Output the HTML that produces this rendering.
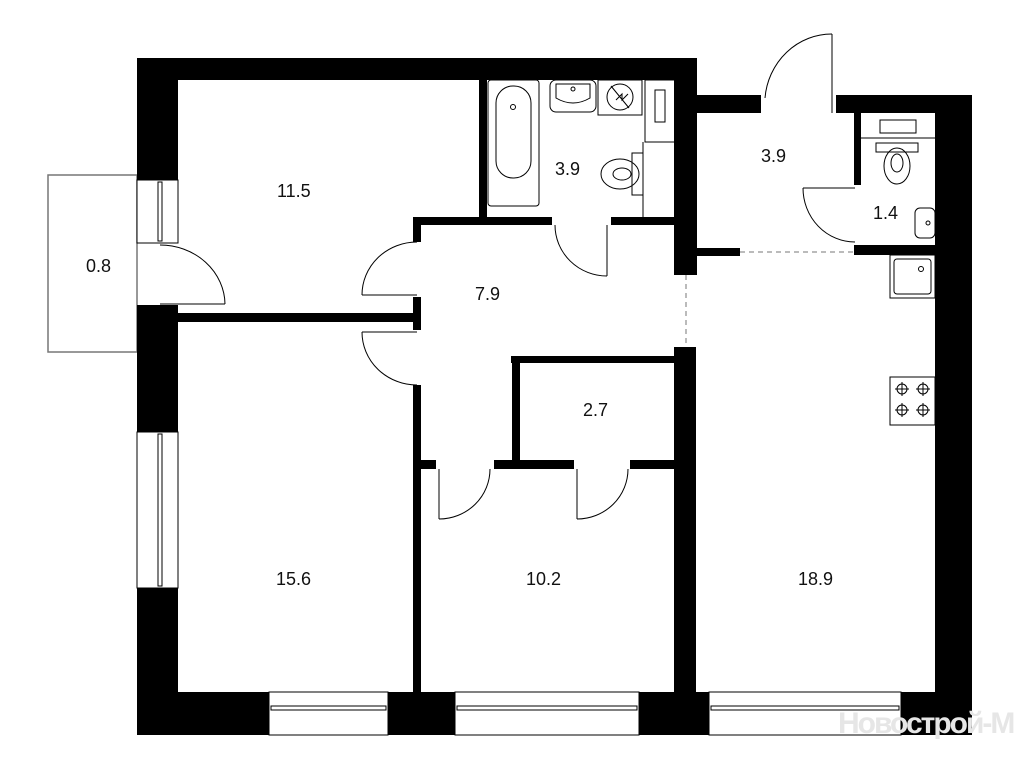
<!DOCTYPE html>
<html><head><meta charset="utf-8"><style>
html,body{margin:0;padding:0;background:#fff;}
svg{display:block;}
text{font-family:"Liberation Sans",sans-serif;font-size:18px;fill:#111;}
</style></head><body>
<svg width="1024" height="768" viewBox="0 0 1024 768" xmlns="http://www.w3.org/2000/svg">
<rect width="1024" height="768" fill="#fff"/>
<rect x="48" y="175" width="89" height="177" fill="none" stroke="#777" stroke-width="1.5"/>
<g fill="#000">
<rect x="137" y="58" width="560" height="22"/>
<rect x="137" y="58" width="41" height="122"/>
<rect x="137" y="305" width="41" height="127"/>
<rect x="137" y="588" width="41" height="147"/>
<rect x="137" y="692" width="835" height="43"/>
<rect x="674" y="58" width="23" height="217"/>
<rect x="674" y="347" width="22" height="345"/>
<rect x="695" y="95" width="66" height="18"/>
<rect x="836" y="95" width="136" height="18"/>
<rect x="935" y="95" width="37" height="640"/>
<rect x="854" y="113" width="7" height="72"/>
<rect x="854" y="245" width="81" height="10"/>
<rect x="695" y="248" width="45" height="8"/>
<rect x="479" y="80" width="8" height="137"/>
<rect x="413" y="217" width="139" height="8"/>
<rect x="611" y="217" width="64" height="8"/>
<rect x="413" y="217" width="8" height="25"/>
<rect x="413" y="297" width="8" height="33"/>
<rect x="178" y="313" width="240" height="9"/>
<rect x="413" y="385" width="8" height="307"/>
<rect x="511" y="356" width="164" height="7"/>
<rect x="512" y="356" width="8" height="110"/>
<rect x="421" y="460" width="15" height="9"/>
<rect x="494" y="460" width="80" height="9"/>
<rect x="630" y="460" width="45" height="9"/>
</g>
<g fill="#fff" stroke="#000" stroke-width="1">
<rect x="137" y="180" width="41" height="63"/>
<rect x="158" y="182" width="4" height="59"/>
<rect x="137" y="432" width="41" height="156"/>
<rect x="158" y="434" width="4" height="152"/>
<rect x="269" y="692" width="119" height="43"/>
<rect x="271" y="706" width="115" height="4"/>
<rect x="455" y="692" width="184" height="43"/>
<rect x="457" y="706" width="180" height="4"/>
<rect x="709" y="692" width="192" height="43"/>
<rect x="711" y="706" width="188" height="4"/>
</g>
<g stroke="#777" stroke-width="1" stroke-dasharray="5,4" fill="none">
<line x1="740" y1="252" x2="854" y2="252"/>
<line x1="686" y1="275" x2="686" y2="347"/>
</g>
<g fill="none" stroke="#000" stroke-width="1">
<line x1="160" y1="304" x2="225" y2="304"/><path d="M225 304 A65 60 0 0 0 160 245"/>
<line x1="362" y1="295" x2="417" y2="295"/><path d="M417 242 A55 53 0 0 0 362 295"/>
<line x1="362" y1="332" x2="417" y2="332"/><path d="M362 332 A55 53 0 0 0 417 385"/>
<line x1="607" y1="225" x2="607" y2="276"/><path d="M555 225 A52 51 0 0 0 607 276"/>
<line x1="439" y1="469" x2="439" y2="519"/><path d="M439 519 A51 50 0 0 0 490 469"/>
<line x1="577" y1="469" x2="577" y2="519"/><path d="M577 519 A51 50 0 0 0 628 469"/>
<line x1="832" y1="113" x2="832" y2="34"/><path d="M832 34 A67 70 0 0 0 765 98"/>
<line x1="803" y1="188" x2="855" y2="188"/><path d="M803 188 A52 54 0 0 0 855 242"/>
</g>
<g fill="none" stroke="#000" stroke-width="1">
<rect x="488" y="80" width="51" height="126" rx="3"/>
<rect x="496" y="86" width="35" height="92" rx="17"/>
<circle cx="513" cy="107" r="2.5"/>
<rect x="550" y="80" width="46" height="32" rx="6"/>
<path d="M556 84 h34 v14 q-17 10 -34 0 z"/>
<circle cx="573" cy="89" r="2"/>
<rect x="598" y="80" width="44" height="35"/>
<circle cx="620" cy="97" r="13"/>
<path d="M611 86 L629 108 M616 100 l6 -6 l0 6 l6 -6"/>
<rect x="645" y="80" width="30" height="62"/>
<rect x="655" y="90" width="10" height="32"/>
<line x1="643" y1="142" x2="643" y2="217"/>
<rect x="632" y="153" width="11" height="42"/>
<ellipse cx="620" cy="174" rx="19" ry="15"/>
<ellipse cx="622" cy="174" rx="9" ry="6"/>
<rect x="880" y="120" width="36" height="13"/>
<line x1="861" y1="138" x2="935" y2="138"/>
<rect x="876" y="143" width="42" height="9"/>
<ellipse cx="897" cy="166" rx="13" ry="18"/>
<ellipse cx="897" cy="163" rx="6" ry="9"/>
<rect x="915" y="208" width="20" height="30" rx="5"/>
<circle cx="928" cy="223" r="2"/>
<rect x="890" y="255" width="45" height="43"/>
<rect x="894" y="259" width="37" height="35" rx="3"/>
<circle cx="921" cy="269" r="2.5"/>
<rect x="890" y="377" width="45" height="48"/>
<g>
<circle cx="902" cy="389" r="5"/><path d="M895 389h14M902 382v14"/>
<circle cx="923" cy="389" r="5"/><path d="M916 389h14M923 382v14"/>
<circle cx="902" cy="410" r="5"/><path d="M895 410h14M902 403v14"/>
<circle cx="923" cy="410" r="5"/><path d="M916 410h14M923 403v14"/>
</g>
</g>
<text x="277" y="197">11.5</text>
<text x="555" y="175">3.9</text>
<text x="475" y="300">7.9</text>
<text x="86" y="272">0.8</text>
<text x="276" y="585">15.6</text>
<text x="526" y="585">10.2</text>
<text x="798" y="585">18.9</text>
<text x="583" y="416">2.7</text>
<text x="761" y="162">3.9</text>
<text x="873" y="219">1.4</text>
<text x="838" y="733" style="font-size:30px;fill:#e6e6e6;font-weight:bold;letter-spacing:-2px">Новострой-М</text>
</svg>
</body></html>
